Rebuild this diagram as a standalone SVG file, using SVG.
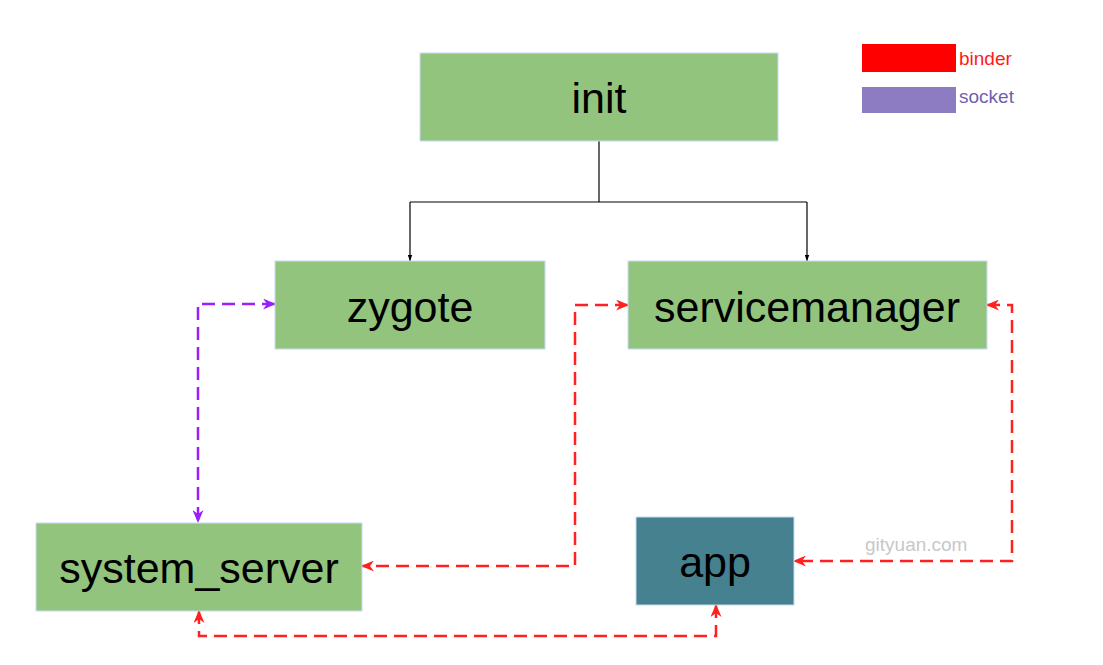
<svg xmlns="http://www.w3.org/2000/svg" width="1103" height="665" viewBox="0 0 1103 665">
<style>
.box{fill:#93c47d;stroke:#c9daf8;stroke-width:1}
.app{fill:#45818e;stroke:#c9daf8;stroke-width:1}
.lbl{font-family:"Liberation Sans",Arial,sans-serif;font-size:43px;fill:#000;text-anchor:middle}
.tree{fill:none;stroke:#000;stroke-width:1.2}
.binder{fill:none;stroke:#ff2020;stroke-width:2.5;stroke-dasharray:13 7}
.socket{fill:none;stroke:#9a1fff;stroke-width:2.5;stroke-dasharray:13 7}
.leg{font-family:"Liberation Sans",Arial,sans-serif;font-size:19px}
</style>
<defs>
<marker id="ab" viewBox="0 0 13 11" refX="12" refY="5.5" markerWidth="13" markerHeight="11" markerUnits="userSpaceOnUse" orient="auto-start-reverse">
<path d="M0,0 L13,5.5 L0,11 L4,5.5 z" fill="#ff2020"/>
</marker>
<marker id="as" viewBox="0 0 13 11" refX="12" refY="5.5" markerWidth="13" markerHeight="11" markerUnits="userSpaceOnUse" orient="auto-start-reverse">
<path d="M0,0 L13,5.5 L0,11 L4,5.5 z" fill="#9a1fff"/>
</marker>
<marker id="at" viewBox="0 0 8 6" refX="8" refY="3" markerWidth="6" markerHeight="5" markerUnits="userSpaceOnUse" orient="auto">
<path d="M0,0 L8,3 L0,6 z" fill="#000"/>
</marker>
</defs>
<rect width="1103" height="665" fill="#fff"/>
<g id="legend">
<rect x="862" y="44" width="94" height="28" fill="#ff0000"/>
<text class="leg" x="959" y="65" fill="#ff1a1a">binder</text>
<rect x="862" y="87" width="94" height="26" fill="#8e7cc3"/>
<text class="leg" x="959" y="103" fill="#6f5fb0">socket</text>
</g>
<g id="connectors">
<polyline class="tree" points="599,141 599,202"/>
<polyline class="tree" points="410,202 807,202"/>
<polyline class="tree" points="410,202 410,261" marker-end="url(#at)"/>
<polyline class="tree" points="807,202 807,261" marker-end="url(#at)"/>
<polyline class="socket" points="275,304 198,304 198,522" marker-start="url(#as)" marker-end="url(#as)"/>
<polyline class="binder" points="628,305 575,305 575,566 362,566" marker-start="url(#ab)" marker-end="url(#ab)"/>
<polyline class="binder" points="987,305 1012,305 1012,561 794,561" marker-start="url(#ab)" marker-end="url(#ab)"/>
<polyline class="binder" points="199,611 199,636 716,636 716,605" marker-start="url(#ab)" marker-end="url(#ab)"/>
</g>
<g id="init">
<rect class="box" x="420" y="53" width="358" height="88"/>
<text class="lbl" x="599" y="113">init</text>
</g>
<g id="zygote">
<rect class="box" x="275" y="261" width="270" height="88"/>
<text class="lbl" x="410" y="322">zygote</text>
</g>
<g id="servicemanager">
<rect class="box" x="628" y="261" width="359" height="88"/>
<text class="lbl" x="807" y="322">servicemanager</text>
</g>
<g id="system_server">
<rect class="box" x="36" y="523" width="326" height="88"/>
<text class="lbl" x="199" y="583">system_server</text>
</g>
<g id="app">
<rect class="app" x="636" y="517" width="158" height="88"/>
<text class="lbl" x="715" y="577">app</text>
</g>
<text x="865" y="551" font-family="'Liberation Sans',Arial,sans-serif" font-size="19" fill="#c8c8c8">gityuan.com</text>
</svg>
